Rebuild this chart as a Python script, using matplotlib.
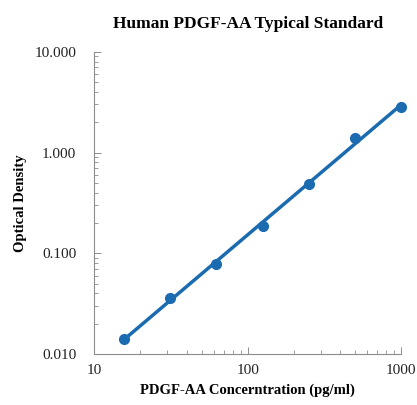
import numpy as np
import matplotlib
matplotlib.use("Agg")
import matplotlib.pyplot as plt
from matplotlib.ticker import FixedLocator, LogLocator, NullFormatter

concentration = [15.6, 31.25, 62.5, 125, 250, 500, 1000]
optical_density = [0.014, 0.036, 0.079, 0.188, 0.49, 1.38, 2.85]
x_ticks = [10, 100, 1000]
x_labels = ["10", "100", "1000"]
y_ticks = [0.01, 0.1, 1, 10]
y_labels = ["0.010", "0.100", "1.000", "10.000"]

plt.rcParams["font.family"] = ["Liberation Serif", "DejaVu Serif"]

fig = plt.figure(figsize=(4.17, 4.05), dpi=100)
ax = fig.add_axes([0.226, 0.126, 0.736, 0.746])

blue = "#1b6bb0"

# power-law trend line through the standards
slope, intercept = np.polyfit(np.log10(concentration), np.log10(optical_density), 1)
fit_x = np.array([concentration[0], concentration[-1]])
fit_y = 10 ** (intercept + slope * np.log10(fit_x))
ax.plot(fit_x, fit_y, color=blue, lw=2.5, solid_capstyle="round")
ax.plot(concentration, optical_density, "o", color=blue, ms=7, clip_on=False)

ax.set_xscale("log")
ax.set_yscale("log")
ax.set_xlim(10, 1000)
ax.set_ylim(0.01, 10)
ax.xaxis.set_major_locator(FixedLocator(x_ticks))
ax.set_xticklabels(x_labels)
ax.yaxis.set_major_locator(FixedLocator(y_ticks))
ax.set_yticklabels(y_labels)
ax.xaxis.set_minor_locator(LogLocator(base=10, subs=np.arange(2, 10)))
ax.yaxis.set_minor_locator(LogLocator(base=10, subs=np.arange(2, 10)))
ax.xaxis.set_minor_formatter(NullFormatter())
ax.yaxis.set_minor_formatter(NullFormatter())

for side in ["top", "right"]:
    ax.spines[side].set_visible(False)
for side in ["left", "bottom"]:
    ax.spines[side].set_color("#8c8c8c")
    ax.spines[side].set_linewidth(0.8)

ax.tick_params(which="major", direction="in", length=5, width=0.7, color="#8c8c8c",
               labelsize=11, labelcolor="#222222")
ax.tick_params(axis="x", which="major", pad=7)
ax.tick_params(axis="y", which="major", pad=13)
ax.tick_params(which="minor", direction="in", length=3, width=0.6, color="#8c8c8c")

ax.set_title("Human PDGF-AA Typical Standard", fontsize=12.5, fontweight="bold", pad=17)
ax.set_xlabel("PDGF-AA Concerntration (pg/ml)", fontsize=10.5, fontweight="bold", labelpad=5)
ax.set_ylabel("Optical Density", fontsize=10.5, fontweight="bold", labelpad=5)

fig.savefig("out.png", dpi=100)
